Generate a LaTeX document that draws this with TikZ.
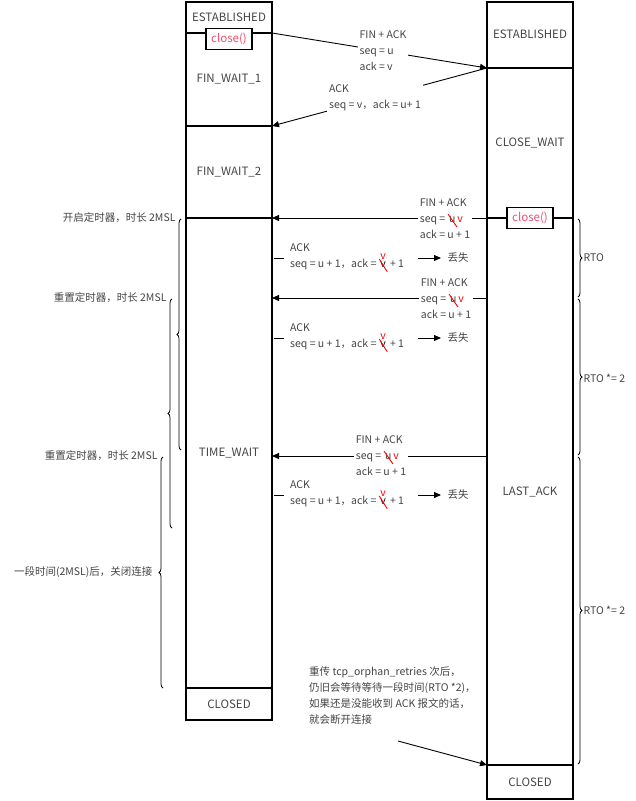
\documentclass[tikz,border=0pt]{standalone}
\usepackage{fontspec}
\setmainfont{Noto Sans CJK SC}
\usetikzlibrary{decorations.pathreplacing,arrows.meta}
\definecolor{tx}{HTML}{444444}
\definecolor{rd}{HTML}{F0506E}
\newcommand\stk[1]{\tikz[baseline=(qq.base)]{\node[inner sep=0pt,outer sep=0pt](qq){#1};\draw[red,line width=0.9pt]([xshift=-1pt,yshift=3pt]qq.north west)--([xshift=1.5pt,yshift=-4pt]qq.south east);}}
\newcommand\seqv{seq = \stk{u}\textcolor{red}{v}}
\newcommand\ackv{ack = \stk{\rlap{\smash{\raisebox{8pt}{\textcolor{red}{v}}}}v} + 1}
\begin{document}
\begin{tikzpicture}[x=1pt,y=-1pt,font=\fontsize{10.5}{16}\selectfont,
  box/.style={draw,line width=1.2pt},
  thick line/.style={line width=2pt},
  st/.style={text=tx,font=\fontsize{11.5}{13}\selectfont},
  lbl/.style={text=tx,fill=white,align=left,inner sep=2pt},
  msg/.style={line width=0.9pt,-{Triangle[length=7pt,width=6pt]}},
  cl/.style={draw,line width=1.2pt,fill=white,text=rd,inner sep=2pt,minimum width=46pt,minimum height=21pt,font=\fontsize{11.5}{13}\selectfont},
  brc/.style={decorate,decoration={brace,amplitude=4pt},line width=0.8pt}]
\useasboundingbox (0,0) rectangle (636,801);
% left column
\draw[box] (186,2) rectangle (272,720);
\draw[thick line] (186,33)--(272,33);
\draw[thick line] (186,126)--(272,126);
\draw[thick line] (186,218)--(272,218);
\draw[thick line] (186,688)--(272,688);
\node[st] (les) at (229,17) {ESTABLISHED};
\node[cl] (lclose) at (229,39) {close()};
\node[st] (lfw1) at (229,79) {FIN\_WAIT\_1};
\node[st] (lfw2) at (229,172) {FIN\_WAIT\_2};
\node[st] (ltw) at (229,453) {TIME\_WAIT};
\node[st] (lcl) at (229,704) {CLOSED};
% right column
\draw[box] (487,2) rectangle (573,799);
\draw[thick line] (487,68)--(573,68);
\draw[thick line] (487,218)--(573,218);
\draw[thick line] (487,765)--(573,765);
\node[st] (res) at (530,34) {ESTABLISHED};
\node[st] (rcw) at (530,143) {CLOSE\_WAIT};
\node[cl] (rclose) at (530,218) {close()};
\node[st] (rla) at (530,492) {LAST\_ACK};
\node[st] (rcl) at (530,782) {CLOSED};
% coordinates
\coordinate (a1) at (252,33); \coordinate (b1) at (487,68);
\coordinate (a2) at (272,126);
\coordinate (a3) at (272,218); \coordinate (b3) at (506,218);
\coordinate (a5) at (272,298); \coordinate (b5) at (487,298);
\coordinate (a7) at (272,456); \coordinate (b7) at (487,456);
% messages
\draw[msg] (a1)--(272,33)--(b1);
\node[lbl] (m1) at (383,51) {FIN + ACK\\seq = u\\ack = v};
\draw[msg] (b1)--(a2);
\node[lbl] (m2) at (375,98) {ACK\\seq = v，ack = u+ 1};
\draw[msg] (b3)--(a3);
\node[lbl] (m3) at (445,219) {FIN + ACK\\\seqv\\ack = u + 1};
\draw[msg] (b5)--(a5);
\node[lbl] (m5) at (446,299) {FIN + ACK\\\seqv\\ack = u + 1};
\draw[msg] (b7)--(a7);
\node[lbl] (m7) at (381,456) {FIN + ACK\\\seqv\\ack = u + 1};
% lost acks
\foreach \y/\n in {258/4,338/6,495/8}{
  \coordinate (t\n) at (274,\y); \coordinate (tt\n) at (284,\y);
  \draw[line width=0.9pt] (t\n)--(tt\n);
  \node[lbl,anchor=west,fill=none] (m\n) at (288,\y) {ACK\\seq = u + 1，\ackv};
  \coordinate (s\n) at (418,\y); \coordinate (e\n) at (441,\y);
  \draw[msg] (s\n)--(e\n);
  \node[text=tx,anchor=west] (l\n) at (444,\y) {丢失};
}
% left braces
\draw[brc] (181,450)--(181,219);
\node[text=tx,anchor=east] (bl1) at (179,218) {开启定时器，时长 2MSL};
\draw[brc] (172,528)--(172,299);
\node[text=tx,anchor=east] (bl2) at (170,298) {重置定时器，时长 2MSL};
\draw[brc] (163,688)--(163,457);
\node[text=tx,anchor=east] (bl3) at (161,456) {重置定时器，时长 2MSL};
\node[text=tx,anchor=east] (bl4) at (156,572) {一段时间(2MSL)后，关闭连接};
% right braces
\draw[brc] (578,219)--(578,297);
\node[text=tx,anchor=west] (br1) at (580,258) {RTO};
\draw[brc] (578,299)--(578,455);
\node[text=tx,anchor=west] (br2) at (580,378) {RTO *= 2};
\draw[brc] (578,457)--(578,764);
\node[text=tx,anchor=west] (br3) at (580,610) {RTO *= 2};
% note
\node[text=tx,align=left,anchor=north west,inner sep=0pt] (note) at (309,666) {重传 tcp\_orphan\_retries 次后，\\仍旧会等待等待一段时间(RTO *2)，\\如果还是没能收到 ACK 报文的话，\\就会断开连接};
\coordinate (n1) at (398,741); \coordinate (n2) at (487,765);
\draw[msg] (n1)--(n2);
\end{tikzpicture}
\end{document}
